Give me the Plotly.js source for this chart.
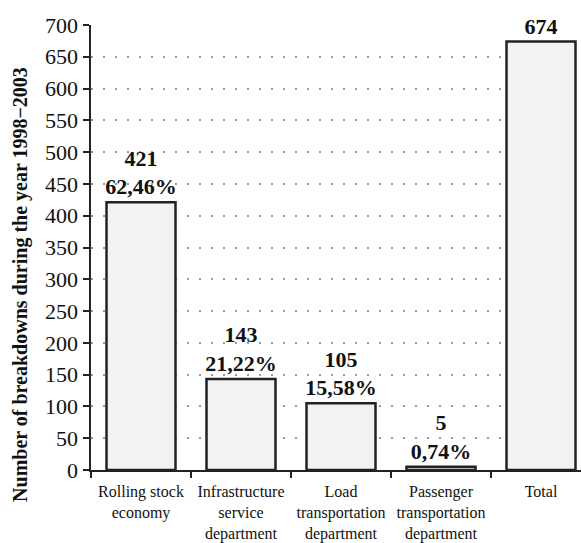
<!DOCTYPE html>
<html><head><meta charset="utf-8">
<script src="https://cdn.plot.ly/plotly-3.0.1.min.js"></script>
<style>html,body{margin:0;padding:0;background:#fff;}</style>
</head><body>
<div id="chart" style="width:581px;height:543px;"></div>
<script>
const categories = ["Rolling stock<br>economy", "Infrastructure<br>service<br>department", "Load<br>transportation<br>department", "Passenger<br>transportation<br>department", "Total"];
const breakdowns = [421, 143, 105, 5, 674];
const shares = ["62,46%", "21,22%", "15,58%", "0,74%", ""];
const yTickValues = [0, 50, 100, 150, 200, 250, 300, 350, 400, 450, 500, 550, 600, 650, 700];
const yTitle = "Number of breakdowns during the year 1998\u22122003";

const FONT = "'Liberation Serif', 'Times New Roman', Times, serif";
const labels = breakdowns.map((v, i) => shares[i] ? v + "<br>" + shares[i] : String(v));

const trace = {
  type: "bar",
  x: categories,
  y: breakdowns,
  width: 0.69,
  marker: {color: "#f1f3f3", line: {color: "#222", width: 2.5}},
  text: labels,
  textposition: "outside",
  constraintext: "none",
  textfont: {family: FONT, size: 22, color: "#111", weight: "bold"},
  cliponaxis: false,
  hoverinfo: "none"
};

const layout = {
  width: 581, height: 543,
  margin: {l: 91, r: 0, t: 25, b: 73},
  paper_bgcolor: "#fff", plot_bgcolor: "#fff",
  showlegend: false,
  font: {family: FONT, color: "#111"},
  xaxis: {
    type: "category",
    range: [-0.5, 4.4],
    showline: true, linecolor: "#222", linewidth: 2,
    ticks: "outside", tickson: "boundaries", ticklen: 6, tickwidth: 2, tickcolor: "#222",
    tickangle: 0, ticklabelstandoff: 6,
    tickfont: {family: FONT, size: 16, color: "#111"},
    showgrid: false, fixedrange: true
  },
  yaxis: {
    range: [0, 700],
    tickvals: yTickValues,
    ticktext: yTickValues.map(String),
    showline: true, linecolor: "#222", linewidth: 2.5,
    ticks: "outside", ticklen: 6, tickwidth: 2, tickcolor: "#222",
    tickfont: {family: FONT, size: 22, color: "#111"},
    showgrid: true, gridcolor: "#9a9a9a", gridwidth: 2, griddash: "2px,10px",
    zeroline: false, fixedrange: true
  },
  annotations: [{
    text: yTitle, textangle: -90, showarrow: false,
    xref: "paper", yref: "paper", x: -0.143, y: 0.418, xanchor: "center", yanchor: "middle",
    font: {family: FONT, size: 20, color: "#111", weight: "bold"}
  }]
};

Plotly.newPlot("chart", [trace], layout, {displayModeBar: false, staticPlot: true});
</script>
</body></html>
